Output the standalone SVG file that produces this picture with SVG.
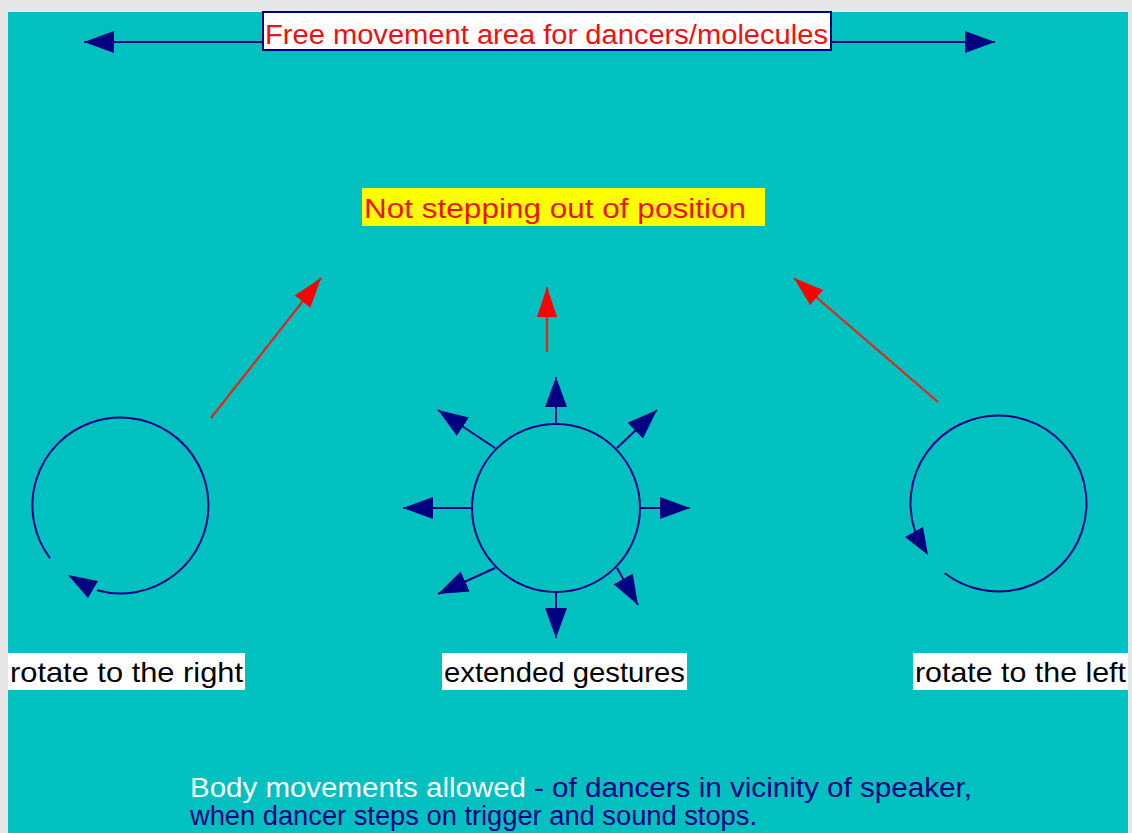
<svg xmlns="http://www.w3.org/2000/svg" width="1132" height="833" viewBox="0 0 1132 833">
<style>
.t{font-family:"Liberation Sans",Arial,sans-serif;font-size:27px}
.l{font-family:"Liberation Sans",Arial,sans-serif;font-size:28px;fill:#000000}
.red{fill:#ee1111}
.navyline{stroke:#000080;stroke-width:2;fill:none}
.redline{stroke:#e5241b;stroke-width:2.2;fill:none}
.lbl{fill:#ffffff}
</style>
<defs>
<marker id="nv" markerUnits="userSpaceOnUse" markerWidth="32" markerHeight="24" refX="30" refY="11" orient="auto">
<path d="M0,0 L30,11 L0,22 z" fill="#000080"/>
</marker>
<marker id="nvs" markerUnits="userSpaceOnUse" markerWidth="32" markerHeight="24" refX="30" refY="11" orient="auto-start-reverse">
<path d="M0,0 L30,11 L0,22 z" fill="#000080"/>
</marker>
<marker id="rd" markerUnits="userSpaceOnUse" markerWidth="32" markerHeight="24" refX="30" refY="10" orient="auto">
<path d="M0,0 L30,10 L0,20 z" fill="#ff0000"/>
</marker>
</defs>
<rect x="0" y="0" width="1132" height="833" fill="#e6e6e6"/>
<rect x="8" y="12" width="1120" height="821" fill="#00c0c0"/>

<g id="connectors">
<line class="navyline" x1="84" y1="42" x2="995" y2="42" marker-start="url(#nvs)" marker-end="url(#nvs)"/>
<line class="redline" x1="211" y1="418" x2="321" y2="278" marker-end="url(#rd)"/>
<line class="redline" x1="547" y1="352" x2="547" y2="287" marker-end="url(#rd)"/>
<line class="redline" x1="938" y1="402" x2="794" y2="278" marker-end="url(#rd)"/>
<line class="navyline" x1="556" y1="425" x2="556" y2="377" marker-end="url(#nv)"/>
<line class="navyline" x1="556" y1="591" x2="556" y2="638" marker-end="url(#nv)"/>
<line class="navyline" x1="472" y1="508" x2="403" y2="508" marker-end="url(#nv)"/>
<line class="navyline" x1="640" y1="508" x2="690" y2="508" marker-end="url(#nv)"/>
<line class="navyline" x1="495" y1="448" x2="438" y2="410" marker-end="url(#nv)"/>
<line class="navyline" x1="617" y1="448" x2="657" y2="410" marker-end="url(#nv)"/>
<line class="navyline" x1="495" y1="568" x2="438" y2="594" marker-end="url(#nv)"/>
<line class="navyline" x1="617" y1="568" x2="638" y2="605" marker-end="url(#nv)"/>
</g>

<g id="title">
<rect x="263" y="12" width="568" height="38" fill="#ffffff" stroke="#000080" stroke-width="2"/>
<text class="t red" x="265" y="44" textLength="563" lengthAdjust="spacingAndGlyphs">Free movement area for dancers/molecules</text>
</g>

<g id="not-stepping">
<rect x="362" y="188" width="403" height="38" fill="#ffff00"/>
<text class="t red" x="364" y="218" textLength="382" lengthAdjust="spacingAndGlyphs">Not stepping out of position</text>
</g>

<g id="rotate-right">
<path class="navyline" d="M49.9 558.1 A88 88 0 1 1 97 590.3"/>
<polygon points="68,575 98,581 88,598" fill="#000080"/>
</g>

<g id="extended">
<circle class="navyline" cx="556" cy="508" r="84"/>
</g>

<g id="rotate-left">
<path class="navyline" d="M944.8 573.2 A88 88 0 1 0 915.1 531.6"/>
<polygon points="928,555 905,537 923,527" fill="#000080"/>
</g>

<g id="label-right">
<rect x="8" y="653" width="237" height="37" class="lbl"/>
<text class="l" x="10" y="682" textLength="233" lengthAdjust="spacingAndGlyphs">rotate to the right</text>
</g>
<g id="label-gestures">
<rect x="442" y="653" width="245" height="37" class="lbl"/>
<text class="l" x="444" y="682" textLength="241" lengthAdjust="spacingAndGlyphs">extended gestures</text>
</g>
<g id="label-left">
<rect x="913" y="653" width="215" height="37" class="lbl"/>
<text class="l" x="915" y="682" textLength="211" lengthAdjust="spacingAndGlyphs">rotate to the left</text>
</g>

<g id="caption">
<text class="t" x="190" y="797" fill="#ffffff" textLength="336" lengthAdjust="spacingAndGlyphs">Body movements allowed</text>
<text class="t" x="534" y="797" fill="#000080" textLength="438" lengthAdjust="spacingAndGlyphs">- of dancers in vicinity of speaker,</text>
<text class="t" x="190" y="825" fill="#000080" textLength="567" lengthAdjust="spacingAndGlyphs">when dancer steps on trigger and sound stops.</text>
</g>
</svg>
